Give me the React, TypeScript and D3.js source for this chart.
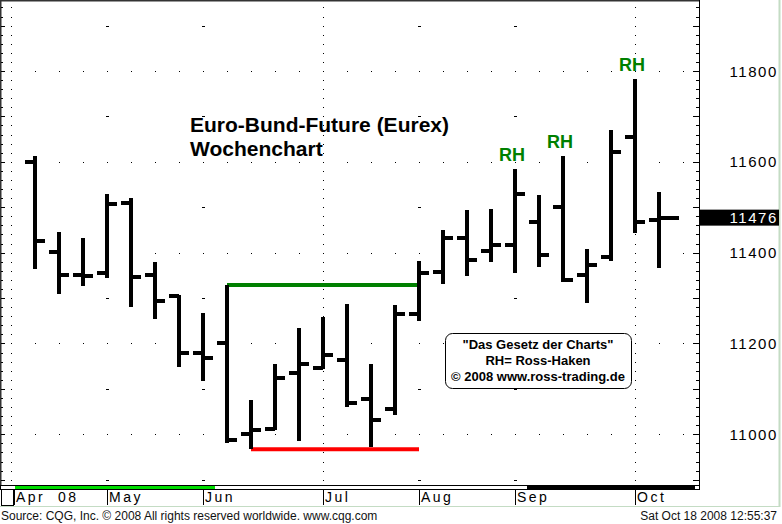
import * as d3 from "d3";

// Wochenbars Euro-Bund-Future, Apr - Okt 2008
const opens = [11600, 11402, 11351, 11356, 11510, 11351, 11304, 11178, 11202, 11001, 11012, 11136, 11147, 11164, 11077, 11056, 11264, 11358, 11432, 11404, 11417, 11468, 11501, 11351, 11391, 11655, 11471];
const highs = [11613, 11445, 11432, 11529, 11520, 11379, 11307, 11267, 11329, 11075, 11154, 11233, 11258, 11288, 11154, 11285, 11381, 11450, 11494, 11496, 11584, 11527, 11613, 11407, 11670, 11782, 11534];
const lows = [11363, 11310, 11327, 11345, 11281, 11253, 11149, 11118, 10980, 10967, 11009, 10986, 11143, 11061, 10973, 11042, 11249, 11332, 11349, 11380, 11356, 11369, 11335, 11290, 11381, 11444, 11367];
const closes = [11426, 11351, 11349, 11508, 11347, 11294, 11178, 11169, 10987, 11010, 11125, 11155, 11175, 11069, 11032, 11266, 11356, 11433, 11384, 11417, 11530, 11395, 11340, 11373, 11622, 11468, 11476];

const monthLabels = ["Apr  08", "May", "Jun", "Jul", "Aug", "Sep", "Oct"];
const monthStart = [-1, 3, 7, 12, 16, 20, 25];
const quarterStart = [-1, 12, 25];

const priceLabels = [11000, 11200, 11400, 11600, 11800];
const lastPrice = 11476;

const rhWeeks = [20, 22, 25];
const resistance = { level: 11329, from: 8, to: 16 };
const support = { level: 10967, from: 9, to: 16 };

const W = 782;
const H = 524;
const PLOT_R = 699;
const PLOT_B = 485;
const FONT = "'Liberation Sans', Arial, sans-serif";

export default function App() {
  const x = d3.scaleLinear().domain([-1, 27]).range([11, 683]);
  const y = d3.scaleLinear().domain([11000, 11800]).range([434.3, 71]);

  const minor = d3.range(10900, 11960, 20);
  const weeks = d3.range(-1, 28);
  const oddHundreds = [10900, 11100, 11300, 11500, 11700, 11900];
  const lastIdx = closes.length - 1;

  return (
    <div style={{ position: "fixed", left: 0, top: 0 }}>
      <svg width={W} height={H} style={{ display: "block", background: "#fff" }} fontFamily={FONT}>
        {/* Rahmen */}
        <line x1={0} y1={0.5} x2={PLOT_R} y2={0.5} stroke="#333" strokeWidth={2} />
        <line x1={0.5} y1={0} x2={0.5} y2={PLOT_B} stroke="#333" strokeWidth={2} />
        <line x1={PLOT_R + 0.5} y1={0} x2={PLOT_R + 0.5} y2={PLOT_B} stroke="#000" />
        <line x1={779.5} y1={0} x2={779.5} y2={507} stroke="#c4dcc4" strokeWidth={2} />
        <line x1={0} y1={506.5} x2={780} y2={506.5} stroke="#c4dcc4" />

        {/* Achsen-Ticks */}
        <g shapeRendering="crispEdges">
          {minor.map(v => {
            const big = v % 100 === 0;
            return (
              <g key={v}>
                <line x1={1} x2={big ? 5 : 3} y1={Math.round(y(v)) + 0.5} y2={Math.round(y(v)) + 0.5} stroke="#000" />
                <line x1={PLOT_R - (big ? 6 : 3)} x2={PLOT_R} y1={Math.round(y(v)) + 0.5} y2={Math.round(y(v)) + 0.5} stroke="#000" />
              </g>
            );
          })}
        </g>

        {/* Gitter */}
        <g fill="#000" shapeRendering="crispEdges">
          {priceLabels.map(v =>
            weeks.map(i => (
              <rect key={`${v}-${i}`} x={Math.round(x(i))} y={Math.round(y(v))} width={1} height={1} />
            ))
          )}
          {quarterStart.map(q =>
            minor.map(v => (
              <rect key={`q${q}-${v}`} x={Math.round(x(q))} y={Math.round(y(v))} width={1} height={1} />
            ))
          )}
          {oddHundreds.map(v =>
            monthStart
              .filter(m => !quarterStart.includes(m))
              .map(m => (
                <rect key={`o${v}-${m}`} x={Math.round(x(m)) - 1} y={Math.round(y(v))} width={3} height={1} />
              ))
          )}
        </g>

        {/* Titel */}
        <text x={190} y={132} fontSize={21} fontWeight="bold" fill="#000">Euro-Bund-Future (Eurex)</text>
        <text x={190} y={156} fontSize={21} fontWeight="bold" fill="#000">Wochenchart</text>

        {/* Widerstand / Unterstützung */}
        <line x1={x(resistance.from)} x2={x(resistance.to)} y1={y(resistance.level)} y2={y(resistance.level)} stroke="#008000" strokeWidth={4} />
        <line x1={x(support.from)} x2={x(support.to)} y1={y(support.level)} y2={y(support.level)} stroke="#ff0000" strokeWidth={4} />

        {/* OHLC-Bars */}
        <g fill="#000" shapeRendering="crispEdges">
          {closes.map((c, i) => (
            <g key={i}>
              <rect x={x(i) - 1.75} y={y(highs[i])} width={3.5} height={y(lows[i]) - y(highs[i])} />
              <rect x={x(i) - 10} y={y(opens[i]) - 2} width={10} height={4} />
              <rect x={x(i)} y={y(c) - 2} width={i === lastIdx ? 20 : 10} height={4} />
            </g>
          ))}
        </g>

        {/* RH */}
        {rhWeeks.map(i => (
          <text key={i} x={x(i) - 3} y={y(highs[i]) - 8} textAnchor="middle" fontSize={18} fontWeight="bold" fill="#008000">RH</text>
        ))}

        {/* Hinweisbox */}
        <rect x={445.5} y={333.5} width={186} height={55} rx={7} fill="#fff" stroke="#000" />
        <g fontSize={13} fontWeight="bold" textAnchor="middle" fill="#000">
          <text x={538} y={349}>"Das Gesetz der Charts"</text>
          <text x={538} y={365}>RH= Ross-Haken</text>
          <text x={538} y={381}>© 2008 www.ross-trading.de</text>
        </g>

        {/* Preisskala rechts */}
        <g fontSize={15} fill="#000" textAnchor="end" letterSpacing={1.6}>
          {priceLabels.map(v => (
            <text key={v} x={778} y={y(v) + 5.5}>{v}</text>
          ))}
        </g>
        <rect x={PLOT_R + 1} y={y(lastPrice) - 8.5} width={79} height={16} fill="#000" />
        <text x={778} y={y(lastPrice) + 5} fontSize={15} fill="#fff" textAnchor="end" letterSpacing={1.6}>{lastPrice}</text>

        {/* Zeitachse */}
        <rect x={0.5} y={485.5} width={PLOT_R} height={4} fill="#fff" stroke="#000" />
        <rect x={15} y={486} width={200} height={3} fill="#00dd00" />
        <rect x={527} y={486} width={168} height={3} fill="#000" />
        <rect x={1.5} y={489.5} width={12} height={16} fill="none" stroke="#000" />
        {monthLabels.map((m, k) => {
          const sx = k === 0 ? 14 : Math.round(x(monthStart[k]));
          return (
            <g key={m}>
              <line x1={sx + 0.5} x2={sx + 0.5} y1={489} y2={505} stroke="#000" />
              <text x={sx + 2} y={502} fontSize={14} letterSpacing={2.5} style={{ whiteSpace: "pre" }} fill="#000">{m}</text>
            </g>
          );
        })}

        {/* Fußzeile */}
        <text x={1} y={520} fontSize={12} fill="#111">Source: CQG, Inc. © 2008 All rights reserved worldwide. www.cqg.com</text>
        <text x={777} y={520} fontSize={12} fill="#111" textAnchor="end">Sat Oct 18 2008 12:55:37</text>
      </svg>
    </div>
  );
}
